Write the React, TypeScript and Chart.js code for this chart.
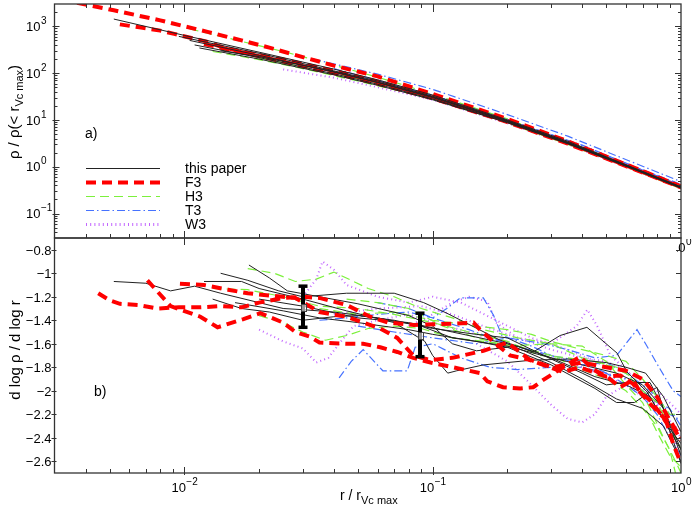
import React, { useEffect, useRef } from "react";
import { Chart, registerables } from "chart.js";

Chart.register(...registerables);

// ---------------- data: panel a) rho / rho(<r_Vc max) vs r / r_Vc max ----------------
const rhoPaper: number[][][] = [
  [[0.0052, 1430], [0.01, 640], [0.02, 280], [0.04, 122], [0.06, 72], [0.1, 34], [0.2, 10], [0.35, 3.5], [0.65, 0.93], [1, 0.37]],
  [[0.0095, 610], [0.02, 265], [0.04, 112], [0.06, 68], [0.1, 32], [0.2, 9.6], [0.35, 3.3], [0.65, 0.9], [1, 0.36]],
  [[0.0105, 500], [0.02, 240], [0.04, 105], [0.06, 63], [0.1, 30], [0.2, 9.3], [0.35, 3.25], [0.65, 0.9], [1, 0.36]],
  [[0.011, 400], [0.02, 215], [0.04, 97], [0.06, 58], [0.1, 28], [0.2, 9], [0.35, 3.15], [0.65, 0.88], [1, 0.35]],
  [[0.0115, 345], [0.02, 200], [0.04, 92], [0.06, 55], [0.1, 27], [0.2, 8.7], [0.35, 3.1], [0.65, 0.87], [1, 0.35]],
  [[0.014, 300], [0.02, 225], [0.04, 108], [0.06, 64], [0.1, 31], [0.2, 9.5], [0.35, 3.3], [0.65, 0.92], [1, 0.37]],
];
const rhoF3: number[][][] = [
  [[0.0037, 3200], [0.0052, 2200], [0.008, 1340], [0.0124, 760], [0.017, 500], [0.022, 350], [0.03, 220], [0.04, 145], [0.06, 85], [0.1, 36], [0.2, 10.5], [0.35, 3.5], [0.65, 0.95], [1, 0.38]],
  [[0.0055, 1100], [0.0067, 940], [0.008, 810], [0.0091, 690], [0.0123, 470], [0.014, 370], [0.0168, 290], [0.025, 195], [0.04, 112], [0.06, 66], [0.1, 31], [0.2, 9.4], [0.35, 3.3], [0.65, 0.9], [1, 0.37]],
  [[0.012, 420], [0.02, 230], [0.04, 100], [0.06, 60], [0.1, 29], [0.2, 9], [0.35, 3.1], [0.65, 0.88], [1, 0.36]],
];
const rhoH3: number[][][] = [
  [[0.0105, 880], [0.015, 560], [0.025, 290], [0.04, 148], [0.06, 82], [0.1, 36], [0.2, 10.5], [0.35, 3.5], [0.65, 0.93], [1, 0.37]],
  [[0.013, 290], [0.02, 195], [0.03, 125], [0.05, 68], [0.1, 28], [0.2, 8.6], [0.35, 3.0], [0.65, 0.84], [1, 0.34]],
  [[0.02, 210], [0.04, 100], [0.07, 52], [0.1, 29], [0.2, 9], [0.4, 2.5], [0.7, 0.75], [1, 0.35]],
];
const rhoT3: number[][][] = [
  [[0.033, 200], [0.06, 95], [0.1, 45], [0.2, 13], [0.35, 4.5], [0.65, 1.2], [1, 0.48]],
  [[0.04, 125], [0.1, 33], [0.2, 10.2], [0.35, 3.6], [0.65, 1.0], [1, 0.42]],
  [[0.05, 80], [0.1, 34], [0.2, 10], [0.4, 2.9], [0.7, 0.85], [1, 0.4]],
];
const rhoW3: number[][][] = [
  [[0.025, 120], [0.04, 80], [0.06, 50], [0.1, 27], [0.2, 8.5], [0.35, 3.0], [0.65, 0.85], [1, 0.35]],
  [[0.03, 140], [0.06, 70], [0.1, 33], [0.2, 10], [0.4, 2.8], [1, 0.38]],
];

// ---------------- data: panel b) d log rho / d log r ----------------
const slopePaper: number[][][] = [
  [[0.0052, -1.07], [0.007, -1.085], [0.0088, -1.15], [0.011, -1.11], [0.014, -1.17], [0.02, -1.25], [0.025, -1.3], [0.03, -1.31], [0.04, -1.33], [0.06, -1.38], [0.09, -1.45], [0.12, -1.55], [0.2, -1.62], [0.3, -1.72], [0.45, -1.88], [0.6, -1.95], [0.75, -2.05], [0.85, -2.25], [1, -2.45]],
  [[0.0182, -0.93], [0.022, -1.04], [0.026, -1.15], [0.035, -1.2], [0.05, -1.26], [0.08, -1.36], [0.1, -1.45], [0.12, -1.6], [0.15, -1.66], [0.22, -1.62], [0.3, -1.72], [0.4, -1.78], [0.55, -1.85], [0.7, -1.95], [0.85, -2.15], [1, -2.55]],
  [[0.014, -1.0], [0.018, -1.06], [0.024, -1.15], [0.03, -1.2], [0.045, -1.17], [0.07, -1.17], [0.092, -1.25], [0.114, -1.34], [0.187, -1.57], [0.254, -1.67], [0.326, -1.53], [0.418, -1.46], [0.553, -1.68], [0.606, -1.84], [0.73, -2.01], [0.85, -2.25], [1, -2.5]],
  [[0.012, -1.07], [0.017, -1.07], [0.02, -1.13], [0.03, -1.22], [0.045, -1.32], [0.07, -1.42], [0.093, -1.58], [0.1, -1.7], [0.115, -1.85], [0.125, -1.83], [0.16, -1.78], [0.25, -1.74], [0.35, -1.73], [0.5, -1.76], [0.6, -1.8], [0.72, -1.85], [0.85, -2.05], [1, -2.35]],
  [[0.013, -1.22], [0.017, -1.3], [0.022, -1.33], [0.03, -1.4], [0.04, -1.37], [0.05, -1.36], [0.07, -1.4], [0.1, -1.47], [0.15, -1.52], [0.2, -1.55], [0.3, -1.73], [0.4, -1.85], [0.5, -1.95], [0.6, -1.93], [0.75, -1.93], [0.85, -2.15], [1, -2.5]],
  [[0.016, -1.25], [0.025, -1.32], [0.035, -1.38], [0.05, -1.42], [0.08, -1.48], [0.1, -1.52], [0.15, -1.58], [0.2, -1.63], [0.3, -1.78], [0.45, -1.98], [0.55, -2.1], [0.65, -2.1], [0.8, -1.97], [0.9, -2.34], [1, -2.62]],
  [[0.02, -1.22], [0.03, -1.28], [0.05, -1.38], [0.08, -1.42], [0.12, -1.5], [0.2, -1.6], [0.3, -1.76], [0.4, -1.9], [0.55, -2.07], [0.7, -2.15], [0.85, -2.3], [1, -2.6]],
];
const slopeF3: number[][][] = [
  [[0.0045, -1.17], [0.005, -1.23], [0.0055, -1.26], [0.0065, -1.27], [0.0078, -1.3], [0.0095, -1.29], [0.0115, -1.29], [0.014, -1.28], [0.017, -1.29], [0.02, -1.25], [0.025, -1.21], [0.03, -1.2], [0.035, -1.21], [0.045, -1.27], [0.056, -1.37], [0.066, -1.42], [0.084, -1.44], [0.12, -1.43], [0.146, -1.42], [0.155, -1.48], [0.182, -1.61], [0.205, -1.7], [0.25, -1.74], [0.3, -1.8], [0.35, -1.78], [0.4, -1.76], [0.5, -1.8], [0.6, -1.83], [0.7, -1.9], [0.8, -2.05], [0.9, -2.25], [1, -2.4]],
  [[0.0071, -1.06], [0.0088, -1.28], [0.0116, -1.37], [0.0136, -1.46], [0.0173, -1.39], [0.0202, -1.34], [0.025, -1.42], [0.028, -1.5], [0.032, -1.54], [0.035, -1.59], [0.045, -1.6], [0.0525, -1.6], [0.0615, -1.63], [0.072, -1.67], [0.0835, -1.72], [0.098, -1.76], [0.121, -1.8], [0.155, -1.85], [0.166, -1.92], [0.192, -1.97], [0.225, -1.98], [0.254, -1.97], [0.278, -1.91], [0.335, -1.8], [0.392, -1.71], [0.443, -1.82], [0.504, -1.88], [0.568, -1.97], [0.641, -1.91], [0.684, -2.01], [0.75, -2.08], [0.823, -2.19], [0.879, -2.28], [0.929, -2.45], [1, -2.62]],
  [[0.0096, -1.09], [0.012, -1.1], [0.015, -1.14], [0.018, -1.17], [0.022, -1.19], [0.028, -1.21], [0.035, -1.33], [0.045, -1.37], [0.0525, -1.42], [0.0615, -1.47], [0.072, -1.55], [0.0835, -1.7], [0.098, -1.74], [0.12, -1.72], [0.16, -1.66], [0.2, -1.59], [0.247, -1.74], [0.335, -1.84], [0.39, -1.8], [0.5, -1.88], [0.57, -1.87], [0.64, -1.94], [0.75, -2.11], [0.93, -2.31], [1, -2.42]],
];
const slopeH3: number[][][] = [
  [[0.018, -0.96], [0.023, -1.0], [0.028, -1.07], [0.034, -1.05], [0.04, -0.99], [0.047, -1.06], [0.055, -1.13], [0.07, -1.2], [0.09, -1.3], [0.12, -1.38], [0.16, -1.48], [0.22, -1.55], [0.3, -1.6], [0.4, -1.72], [0.5, -1.78], [0.6, -1.85], [0.7, -2.0], [0.8, -2.1], [0.9, -2.3], [1, -2.5]],
  [[0.013, -1.13], [0.018, -1.14], [0.025, -1.2], [0.035, -1.28], [0.05, -1.3], [0.07, -1.35], [0.1, -1.42], [0.14, -1.5], [0.2, -1.58], [0.27, -1.7], [0.35, -1.72], [0.45, -1.75], [0.55, -1.8], [0.65, -1.9], [0.75, -2.15], [0.85, -2.4], [0.95, -2.6], [1, -2.7]],
  [[0.02, -1.36], [0.025, -1.42], [0.03, -1.5], [0.037, -1.57], [0.045, -1.53], [0.055, -1.47], [0.07, -1.45], [0.09, -1.47], [0.12, -1.55], [0.16, -1.58], [0.22, -1.62], [0.3, -1.7], [0.4, -1.82], [0.5, -1.9], [0.6, -2.0], [0.7, -2.15], [0.8, -2.3], [0.9, -2.5], [0.95, -2.7]],
  [[0.035, -1.3], [0.05, -1.35], [0.07, -1.33], [0.1, -1.4], [0.15, -1.45], [0.2, -1.48], [0.25, -1.52], [0.3, -1.58], [0.4, -1.65], [0.5, -1.7], [0.6, -1.75], [0.7, -1.9], [0.8, -2.05], [0.9, -2.2], [1, -2.2]],
  [[0.045, -1.22], [0.06, -1.25], [0.08, -1.3], [0.11, -1.45], [0.15, -1.55], [0.2, -1.62], [0.3, -1.6], [0.4, -1.62], [0.5, -1.75], [0.6, -1.95], [0.7, -2.1], [0.8, -2.35], [0.9, -2.55], [1, -2.65]],
];
const slopeT3: number[][][] = [
  [[0.035, -1.4], [0.045, -1.38], [0.06, -1.35], [0.08, -1.33], [0.1, -1.38], [0.114, -1.3], [0.129, -1.21], [0.16, -1.21], [0.176, -1.36], [0.19, -1.53], [0.25, -1.62], [0.3, -1.7], [0.4, -1.78], [0.5, -1.76], [0.6, -1.85], [0.7, -1.95], [0.8, -2.05], [0.9, -2.2], [1, -2.25]],
  [[0.042, -1.89], [0.047, -1.75], [0.0525, -1.65], [0.063, -1.83], [0.079, -1.83], [0.085, -1.63], [0.1, -1.6], [0.13, -1.72], [0.17, -1.8], [0.22, -1.82], [0.3, -1.8], [0.4, -1.8], [0.5, -1.85], [0.6, -1.95], [0.7, -2.05], [0.8, -2.2], [0.9, -2.4], [1, -2.55]],
  [[0.05, -1.45], [0.07, -1.5], [0.1, -1.55], [0.15, -1.6], [0.2, -1.55], [0.28, -1.6], [0.35, -1.65], [0.45, -1.72], [0.55, -1.7], [0.6, -1.6], [0.665, -1.48], [0.72, -1.6], [0.8, -1.77], [0.87, -1.9], [0.93, -2.0], [1, -2.05]],
  [[0.06, -1.25], [0.08, -1.3], [0.1, -1.38], [0.14, -1.48], [0.2, -1.6], [0.3, -1.7], [0.4, -1.75], [0.5, -1.85], [0.6, -1.9], [0.7, -2.0], [0.8, -2.1], [0.9, -2.15], [1, -2.3]],
];
const slopeW3: number[][][] = [
  [[0.02, -1.48], [0.025, -1.58], [0.03, -1.64], [0.034, -1.76], [0.038, -1.72], [0.042, -1.6], [0.048, -1.45], [0.06, -1.4], [0.08, -1.35], [0.1, -1.42], [0.14, -1.5], [0.2, -1.6], [0.3, -1.7], [0.4, -1.8], [0.5, -1.88], [0.6, -1.95], [0.7, -2.05], [0.8, -2.15], [0.9, -2.3], [1, -2.5]],
  [[0.03, -1.2], [0.034, -1.05], [0.036, -0.9], [0.04, -0.97], [0.045, -1.1], [0.06, -1.2], [0.08, -1.25], [0.1, -1.2], [0.13, -1.25], [0.18, -1.4], [0.25, -1.55], [0.35, -1.65], [0.45, -1.75], [0.55, -1.85], [0.65, -1.95], [0.75, -2.05], [0.85, -2.2], [1, -2.4]],
  [[0.08, -1.45], [0.1, -1.35], [0.12, -1.25], [0.14, -1.2], [0.166, -1.24], [0.18, -1.42], [0.22, -1.55], [0.3, -1.6], [0.38, -1.45], [0.42, -1.31], [0.46, -1.45], [0.52, -1.7], [0.6, -1.82], [0.7, -1.98], [0.78, -2.05], [0.85, -2.2], [1, -2.35]],
  [[0.15, -1.6], [0.2, -1.75], [0.25, -1.95], [0.3, -2.12], [0.35, -2.24], [0.4, -2.27], [0.45, -2.2], [0.5, -2.05], [0.6, -1.95], [0.7, -2.0], [0.8, -2.12], [0.9, -2.35], [1, -2.55]],
  [[0.04, -1.35], [0.06, -1.3], [0.09, -1.28], [0.12, -1.35], [0.16, -1.45], [0.22, -1.55], [0.3, -1.65], [0.4, -1.72], [0.5, -1.75], [0.6, -1.83], [0.7, -1.92], [0.8, -2.0], [0.9, -2.1], [1, -2.2]],
];

// error bars in panel b)
const errR = [0.03, 0.089];
const errMid = [-1.29, -1.53];
const errLo = [-1.46, -1.71];
const errHi = [-1.11, -1.34];

// axis ranges and tick labels
const xMin = 0.003, xMax = 1;
const rhoMin = 0.03, rhoMax = 3000;
const slopeMin = -2.7, slopeMax = -0.7;
const xTickExps = [-2, -1, 0];
const rhoTickExps = [3, 2, 1, 0, -1];
const slopeTicks = [-0.8, -1, -1.2, -1.4, -1.6, -1.8, -2, -2.2, -2.4, -2.6];
const slopeTickLabels = ["\u22120.8", "\u22121", "\u22121.2", "\u22121.4", "\u22121.6", "\u22121.8", "\u22122", "\u22122.2", "\u22122.4", "\u22122.6"];
const legendLabels = ["this paper", "F3", "H3", "T3", "W3"];

// ---------------- layout & styles ----------------
const W = 695, H = 513;
const PL = 54.5, PR = 681, PT = 4, PM = 238, PB = 473;
const FONT = '"Liberation Sans", Arial, sans-serif';
const AXIS = "#333";

type Sty = { color: string; width: number; dash: number[] };
const STY: Record<string, Sty> = {
  paper: { color: "#222222", width: 1, dash: [] },
  F3: { color: "#ff0000", width: 4, dash: [10, 6] },
  H3: { color: "#7cf03c", width: 1.2, dash: [9, 5] },
  T3: { color: "#4672ff", width: 1.2, dash: [8, 3, 1.5, 3] },
  W3: { color: "#c266ff", width: 2, dash: [1, 3.2] },
};
const legendStyles = [STY.paper, STY.F3, STY.H3, STY.T3, STY.W3];

function buildDatasets(groups: { lines: number[][][]; s: Sty }[]) {
  const out: any[] = [];
  groups.forEach(({ lines, s }) =>
    lines.forEach((line) =>
      out.push({
        data: line.map(([x, y]) => ({ x, y })),
        borderColor: s.color,
        borderWidth: s.width,
        borderDash: s.dash,
        borderCapStyle: "butt",
        borderJoinStyle: "miter",
        pointRadius: 0,
        pointHoverRadius: 0,
        fill: false,
        tension: 0,
      })
    )
  );
  return out;
}

function logTicks(lo: number, hi: number) {
  const res: { v: number; major: boolean }[] = [];
  for (let e = Math.floor(Math.log10(lo)); e <= Math.ceil(Math.log10(hi)); e++) {
    for (let m = 1; m <= 9; m++) {
      const v = m * Math.pow(10, e);
      if (v >= lo * 0.9999 && v <= hi * 1.0001) res.push({ v, major: m === 1 });
    }
  }
  return res;
}

function line(ctx: CanvasRenderingContext2D, x1: number, y1: number, x2: number, y2: number) {
  ctx.beginPath();
  ctx.moveTo(x1, y1);
  ctx.lineTo(x2, y2);
  ctx.stroke();
}

function drawPow(ctx: CanvasRenderingContext2D, exp: number, x: number, y: number, align: "right" | "center") {
  const base = "10";
  const sup = exp < 0 ? "\u2212" + Math.abs(exp) : String(exp);
  ctx.font = `13px ${FONT}`;
  const wb = ctx.measureText(base).width;
  ctx.font = `10px ${FONT}`;
  const ws = ctx.measureText(sup).width;
  const left = align === "center" ? x - (wb + ws) / 2 : x - wb;
  ctx.textAlign = "left";
  ctx.textBaseline = "middle";
  ctx.fillStyle = "#000";
  ctx.font = `13px ${FONT}`;
  ctx.fillText(base, left, y);
  ctx.font = `10px ${FONT}`;
  ctx.fillText(sup, left + wb + 0.5, y - 6);
}

// text parts: [text, isSub]
function drawRich(ctx: CanvasRenderingContext2D, parts: [string, boolean][], x: number, y: number, size: number, subSize: number, center: boolean) {
  let total = 0;
  const widths = parts.map(([t, sub]) => {
    ctx.font = `${sub ? subSize : size}px ${FONT}`;
    const w = ctx.measureText(t).width;
    total += w;
    return w;
  });
  let cx = center ? x - total / 2 : x;
  ctx.textAlign = "left";
  ctx.textBaseline = "middle";
  ctx.fillStyle = "#000";
  parts.forEach(([t, sub], i) => {
    ctx.font = `${sub ? subSize : size}px ${FONT}`;
    ctx.fillText(t, cx, sub ? y + 5 : y);
    cx += widths[i];
  });
}

const topDecor = {
  id: "topDecor",
  afterDraw(chart: any) {
    const { ctx } = chart;
    const xs = chart.scales.x;
    const ys = chart.scales.y;
    ctx.save();
    ctx.strokeStyle = AXIS;
    ctx.lineWidth = 1.3;
    ctx.setLineDash([]);
    ctx.strokeRect(PL, PT, PR - PL, PM - PT);
    ctx.lineWidth = 1;
    logTicks(xMin, xMax).forEach(({ v, major }) => {
      const px = Math.round(xs.getPixelForValue(v)) + 0.5;
      if (px <= PL + 1 || px >= PR - 1) return;
      if (major) {
        line(ctx, px, PT, px, PT + 8);
        line(ctx, px, PM + 7, px, PM - 7);
      } else {
        line(ctx, px, PT, px, PT + 4);
        line(ctx, px, PM, px, PM - 4);
      }
    });
    logTicks(rhoMin, rhoMax).forEach(({ v, major }) => {
      const py = Math.round(ys.getPixelForValue(v)) + 0.5;
      if (py <= PT + 1 || py >= PM - 1) return;
      if (major) {
        line(ctx, PL - 2, py, PL + 5, py);
        line(ctx, PR - 6, py, PR, py);
      } else {
        line(ctx, PL, py, PL + 3, py);
        line(ctx, PR - 3, py, PR, py);
      }
    });
    rhoTickExps.forEach((e) => {
      const py = ys.getPixelForValue(Math.pow(10, e));
      drawPow(ctx, e, 40.5, py + 1, "right");
    });
    // partially hidden 10^0 label under the lower-right corner
    ctx.save();
    ctx.beginPath();
    ctx.rect(677, PM + 1, 30, 20);
    ctx.clip();
    drawPow(ctx, xTickExps[2], xs.getPixelForValue(Math.pow(10, xTickExps[2])), PM + 10, "center");
    ctx.restore();
    // y title
    ctx.save();
    ctx.translate(15, 112);
    ctx.rotate(-Math.PI / 2);
    drawRich(ctx, [["\u03c1 / \u03c1(< r", false], ["Vc max", true], [")", false]], 0, 0, 15, 11, true);
    ctx.restore();
    ctx.fillStyle = "#000";
    ctx.font = `14px ${FONT}`;
    ctx.textAlign = "left";
    ctx.textBaseline = "middle";
    ctx.fillText("a)", 85, 134);
    // legend
    legendLabels.forEach((lab, i) => {
      const y = 168 + i * 14;
      const s = legendStyles[i];
      ctx.strokeStyle = s.color;
      ctx.lineWidth = i === 4 ? 3 : s.width;
      ctx.setLineDash(s.dash);
      ctx.lineCap = "butt";
      line(ctx, 86, y + 0.5, 160, y + 0.5);
      ctx.setLineDash([]);
      ctx.fillStyle = "#000";
      ctx.font = `14px ${FONT}`;
      ctx.textBaseline = "middle";
      ctx.fillText(lab, 185, y + 1);
    });
    ctx.restore();
  },
};

const botDecor = {
  id: "botDecor",
  afterDatasetsDraw(chart: any) {
    const { ctx } = chart;
    const xs = chart.scales.x;
    const ys = chart.scales.y;
    ctx.save();
    ctx.setLineDash([]);
    errR.forEach((r, i) => {
      const px = Math.round(xs.getPixelForValue(r));
      const yl = ys.getPixelForValue(errLo[i]);
      const yh = ys.getPixelForValue(errHi[i]);
      const ym = ys.getPixelForValue(errMid[i]);
      ctx.strokeStyle = "#000";
      ctx.lineWidth = 4;
      line(ctx, px, yl, px, yh);
      ctx.lineWidth = 3.5;
      line(ctx, px - 4.5, yl, px + 4.5, yl);
      line(ctx, px - 4.5, yh, px + 4.5, yh);
      ctx.lineWidth = 1;
      ctx.strokeStyle = "#444";
      ctx.fillStyle = "rgba(255,255,255,0.6)";
      ctx.fillRect(Math.round(px - 2.5) + 0.5, Math.round(ym - 3.5) + 0.5, 5, 7);
      ctx.strokeRect(Math.round(px - 2.5) + 0.5, Math.round(ym - 3.5) + 0.5, 5, 7);
    });
    ctx.restore();
  },
  afterDraw(chart: any) {
    const { ctx } = chart;
    const xs = chart.scales.x;
    const ys = chart.scales.y;
    ctx.save();
    ctx.setLineDash([]);
    ctx.strokeStyle = AXIS;
    ctx.lineWidth = 1.3;
    ctx.strokeRect(PL, PM, PR - PL, PB - PM);
    ctx.lineWidth = 1;
    logTicks(xMin, xMax).forEach(({ v, major }) => {
      const px = Math.round(xs.getPixelForValue(v)) + 0.5;
      if (px <= PL + 1 || px >= PR - 1) return;
      if (major) line(ctx, px, PB + 2, px, PB - 6);
      else line(ctx, px, PB, px, PB - 4);
    });
    slopeTicks.forEach((v, i) => {
      const py = Math.round(ys.getPixelForValue(v)) + 0.5;
      line(ctx, PL - 3, py, PL + 2, py);
      line(ctx, PR - 5, py, PR, py);
      ctx.fillStyle = "#000";
      ctx.font = `13px ${FONT}`;
      ctx.textAlign = "right";
      ctx.textBaseline = "middle";
      ctx.fillText(slopeTickLabels[i], 51.5, py + 0.5);
    });
    xTickExps.forEach((e) => {
      drawPow(ctx, e, xs.getPixelForValue(Math.pow(10, e)), 488, "center");
    });
    drawRich(ctx, [["r / r", false], ["Vc max", true]], 340, 496, 14, 11, false);
    ctx.save();
    ctx.translate(16, 350);
    ctx.rotate(-Math.PI / 2);
    drawRich(ctx, [["d log \u03c1 / d log r", false]], 0, 0, 15, 11, true);
    ctx.restore();
    ctx.fillStyle = "#000";
    ctx.font = `14px ${FONT}`;
    ctx.textAlign = "left";
    ctx.textBaseline = "middle";
    ctx.fillText("b)", 94, 392);
    ctx.restore();
  },
};

function baseOptions(yType: string, yMin: number, yMax: number, top: number, bottom: number): any {
  return {
    responsive: false,
    maintainAspectRatio: false,
    animation: false,
    events: [],
    layout: { padding: { left: PL, right: W - PR, top, bottom } },
    plugins: { legend: { display: false }, tooltip: { enabled: false } },
    scales: {
      x: { type: "logarithmic", min: xMin, max: xMax, bounds: "data", display: false },
      y: { type: yType, min: yMin, max: yMax, bounds: "data", display: false },
    },
  };
}

export default function App() {
  const topRef = useRef<HTMLCanvasElement>(null);
  const botRef = useRef<HTMLCanvasElement>(null);

  useEffect(() => {
    const top = new Chart(topRef.current as HTMLCanvasElement, {
      type: "line",
      data: {
        datasets: buildDatasets([
          { lines: rhoPaper, s: STY.paper },
          { lines: rhoF3, s: STY.F3 },
          { lines: rhoT3, s: STY.T3 },
          { lines: rhoH3, s: STY.H3 },
          { lines: rhoW3, s: STY.W3 },
        ]),
      },
      options: baseOptions("logarithmic", rhoMin, rhoMax, PT, H - PM),
      plugins: [topDecor],
    } as any);
    const bot = new Chart(botRef.current as HTMLCanvasElement, {
      type: "line",
      data: {
        datasets: buildDatasets([
          { lines: slopeF3, s: STY.F3 },
          { lines: slopePaper, s: STY.paper },
          { lines: slopeH3, s: STY.H3 },
          { lines: slopeT3, s: STY.T3 },
          { lines: slopeW3, s: STY.W3 },
        ]),
      },
      options: baseOptions("linear", slopeMin, slopeMax, PM, H - PB),
      plugins: [botDecor],
    } as any);
    return () => {
      top.destroy();
      bot.destroy();
    };
  }, []);

  const cs: React.CSSProperties = { position: "absolute", left: 0, top: 0, width: W, height: H };
  return (
    <div style={{ position: "fixed", left: 0, top: 0, width: W, height: H, background: "#fff" }}>
      <canvas ref={topRef} width={W} height={H} style={cs} />
      <canvas ref={botRef} width={W} height={H} style={cs} />
    </div>
  );
}
